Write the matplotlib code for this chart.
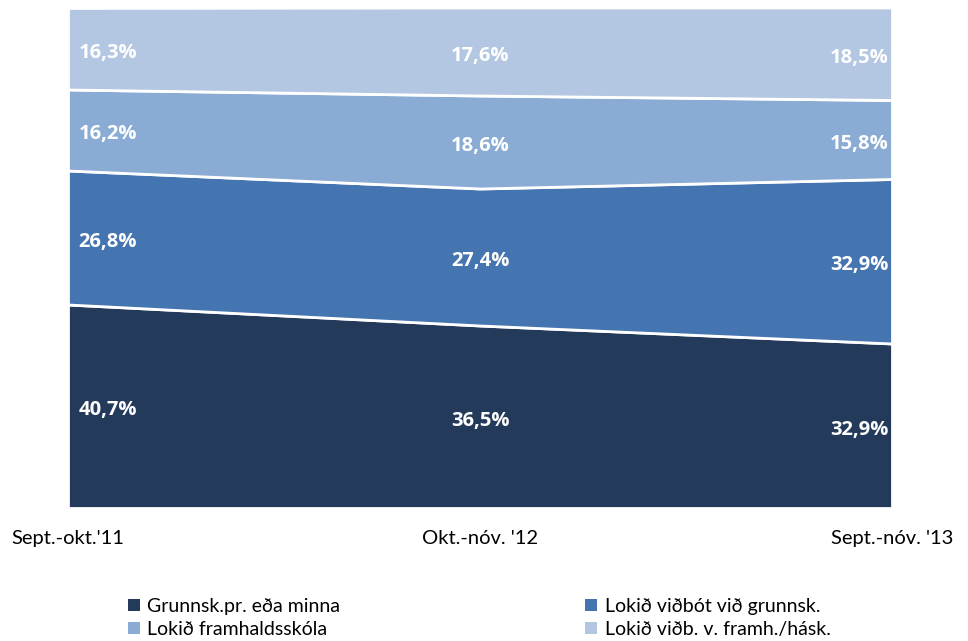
import matplotlib
matplotlib.use("Agg")
import matplotlib.pyplot as plt
from matplotlib.patches import Patch
import numpy as np

categories = ["Sept.-okt.'11", "Okt.-nóv. '12", "Sept.-nóv. '13"]
series_names = ["Grunnsk.pr. eða minna", "Lokið viðbót við grunnsk.",
                "Lokið framhaldsskóla", "Lokið viðb. v. framh./hásk."]
grunnsk = [40.7, 36.5, 32.9]
vidbot = [26.8, 27.4, 32.9]
framhald = [16.2, 18.6, 15.8]
hask = [16.3, 17.6, 18.5]
colors = ["#243A5A", "#4575B0", "#8AABD3", "#B3C7E2"]

W, H = 968, 641
fig = plt.figure(figsize=(W / 100, H / 100), dpi=100)
ax = fig.add_axes([68 / W, (H - 508) / H, 824 / W, 500 / H])

x = np.arange(len(categories))
data = [grunnsk, vidbot, framhald, hask]
ax.stackplot(x, *data, colors=colors, edgecolor="white", linewidth=2)
ax.set_xlim(0, len(categories) - 1)
ax.set_ylim(0, 100)
for s in ax.spines.values():
    s.set_visible(False)
ax.set_yticks([])
ax.set_xticks(x)
ax.set_xticklabels(categories, fontsize=14.5, family="Lato")
ax.tick_params(axis="x", length=0, pad=16)

cum = np.zeros(len(categories))
for vals in data:
    vals = np.array(vals)
    mids = cum + vals / 2 - 0.8
    for i in range(len(categories)):
        lbl = f"{vals[i]:.1f}%".replace(".", ",")
        if i == 0:
            ha, xo = "left", 0.025
        elif i == len(categories) - 1:
            ha, xo = "right", -0.008
        else:
            ha, xo = "center", 0.0
        ax.text(x[i] + xo, mids[i], lbl, ha=ha, va="center", color="white",
                fontsize=14.5, fontweight="bold", family="Open Sans")
    cum += vals

# legend filled row-wise: reorder for matplotlib's column-wise fill
order = [0, 2, 1, 3]
handles = [Patch(facecolor=colors[k]) for k in order]
labels = [series_names[k] for k in order]
leg = fig.legend(handles, labels, loc="upper left", ncol=2,
                 bbox_to_anchor=(128 / W, (H - 598) / H), frameon=False,
                 prop={"family": "Lato", "size": 14}, handlelength=0.6,
                 handleheight=0.6, handletextpad=0.4, columnspacing=12.6,
                 labelspacing=0.3, borderpad=0, borderaxespad=0)

fig.savefig("out.png", dpi=100)
